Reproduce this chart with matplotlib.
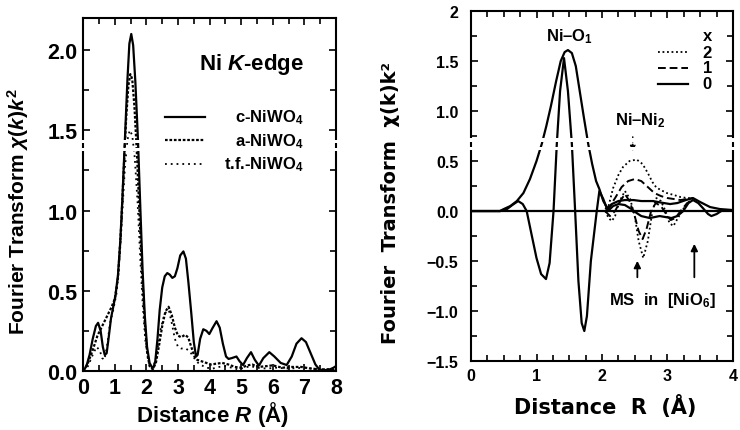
"""Two EXAFS Fourier transform panels: Ni K-edge of NiWO4 samples (left)
and the magnitude / imaginary part for x = 0, 1, 2 (right)."""
import matplotlib
matplotlib.use('Agg')
import matplotlib.pyplot as plt
from matplotlib.patches import Rectangle
from matplotlib.ticker import MultipleLocator, FixedLocator, FixedFormatter

plt.rcParams['font.family'] = ['Liberation Sans', 'DejaVu Sans']
plt.rcParams['font.weight'] = 'bold'
plt.rcParams['axes.labelweight'] = 'bold'
plt.rcParams['mathtext.fontset'] = 'custom'
plt.rcParams['mathtext.rm'] = 'Liberation Sans:bold'
plt.rcParams['mathtext.it'] = 'Liberation Sans:bold:italic'
plt.rcParams['mathtext.bf'] = 'Liberation Sans:bold'

# ---- left panel: Ni K-edge ----
c_r = [0.0, 0.1, 0.2, 0.3, 0.4, 0.47, 0.55, 0.62, 0.68, 0.74, 0.8, 0.88, 0.95,
       1.02, 1.1, 1.17, 1.24, 1.32, 1.4, 1.46, 1.52, 1.58, 1.65, 1.73, 1.81,
       1.88, 1.95, 2.02, 2.1, 2.17, 2.22, 2.28, 2.35, 2.42, 2.5, 2.58, 2.66,
       2.74, 2.82, 2.9, 2.98, 3.07, 3.17, 3.25, 3.33, 3.42, 3.5, 3.57, 3.62,
       3.7, 3.8, 3.9, 3.99, 4.1, 4.22, 4.32, 4.42, 4.52, 4.6, 4.7, 4.85, 4.95,
       5.06, 5.18, 5.31, 5.43, 5.56, 5.7, 5.89, 6.05, 6.25, 6.44, 6.6, 6.75,
       6.91, 7.05, 7.2, 7.35, 7.49, 7.65, 7.81, 7.92, 8.0]
c_ft = [0.0, 0.03, 0.1, 0.2, 0.28, 0.30, 0.25, 0.15, 0.10, 0.11, 0.2, 0.33, 0.40,
        0.47, 0.6, 0.8, 1.08, 1.45, 1.82, 2.04, 2.10, 2.03, 1.80, 1.45, 1.00,
        0.62, 0.34, 0.15, 0.05, 0.025, 0.02, 0.06, 0.2, 0.38, 0.52, 0.59, 0.61,
        0.60, 0.58, 0.59, 0.64, 0.72, 0.745, 0.70, 0.55, 0.36, 0.18, 0.09, 0.10,
        0.20, 0.26, 0.25, 0.23, 0.27, 0.31, 0.27, 0.17, 0.09, 0.075, 0.08, 0.09, 0.06,
        0.037, 0.08, 0.117, 0.07, 0.033, 0.08, 0.117, 0.09, 0.05, 0.037, 0.09, 0.17,
        0.204, 0.18, 0.11, 0.04, 0.005, 0.005, 0.01, 0.02, 0.03]

a_r = [0.0, 0.15, 0.3, 0.45, 0.6, 0.75, 0.9, 1.0, 1.1, 1.2, 1.28, 1.36, 1.43,
       1.49, 1.55, 1.62, 1.7, 1.78, 1.86, 1.94, 2.02, 2.1, 2.2, 2.3, 2.4, 2.5,
       2.6, 2.7, 2.8, 2.9, 3.0, 3.1, 3.22, 3.32, 3.42, 3.52, 3.6, 3.75, 3.9,
       4.05, 4.2, 4.4, 4.6, 4.8, 5.0, 5.2, 5.35, 5.55, 5.8, 6.0, 6.3, 6.6, 6.9,
       7.2, 7.5, 8.0]
a_ft = [0.0, 0.05, 0.13, 0.22, 0.28, 0.34, 0.40, 0.45, 0.58, 0.90, 1.25, 1.58, 1.78,
        1.85, 1.82, 1.65, 1.35, 0.98, 0.62, 0.32, 0.12, 0.03, 0.01, 0.05, 0.16, 0.28,
        0.37, 0.40, 0.35, 0.27, 0.22, 0.21, 0.225, 0.21, 0.15, 0.09, 0.07, 0.06, 0.05,
        0.04, 0.045, 0.05, 0.04, 0.025, 0.02, 0.035, 0.04, 0.025, 0.03, 0.035, 0.02,
        0.025, 0.025, 0.015, 0.01, 0.01]

tf_r = [0.0, 0.15, 0.3, 0.42, 0.52, 0.6, 0.67, 0.75, 0.85, 0.95, 1.05, 1.15, 1.24,
        1.32, 1.4, 1.47, 1.55, 1.63, 1.72, 1.8, 1.88, 1.96, 2.05, 2.13, 2.2, 2.28,
        2.36, 2.45, 2.55, 2.65, 2.72, 2.8, 2.9, 3.0, 3.1, 3.25, 3.38, 3.48, 3.58,
        3.7, 3.9, 4.1, 4.3, 4.5, 4.7, 4.9, 5.1, 5.3, 5.5, 5.8, 6.1, 6.5, 7.0, 7.5, 8.0]
tf_ft = [0.0, 0.03, 0.1, 0.15, 0.13, 0.08, 0.07, 0.15, 0.30, 0.38, 0.48, 0.70, 1.00,
         1.27, 1.44, 1.50, 1.47, 1.33, 1.05, 0.72, 0.42, 0.2, 0.07, 0.02, 0.02, 0.06,
         0.15, 0.26, 0.34, 0.38, 0.37, 0.3, 0.2, 0.15, 0.14, 0.14, 0.12, 0.09, 0.06,
         0.04, 0.02, 0.015, 0.025, 0.03, 0.02, 0.01, 0.02, 0.03, 0.02, 0.015, 0.02,
         0.015, 0.02, 0.01, 0.005]

left_labels = ['c-NiWO$_4$', 'a-NiWO$_4$', 't.f.-NiWO$_4$']
left_yticks = [0.0, 0.5, 1.0, 1.5, 2.0]

# ---- right panel: magnitude and imaginary part, x = 0, 1, 2 ----
mag0_r = [0.0, 0.44, 0.5, 0.6, 0.7, 0.8, 0.9, 1.0, 1.08, 1.15, 1.22, 1.3, 1.37,
          1.43, 1.48, 1.54, 1.6, 1.66, 1.72, 1.79, 1.85, 1.91, 1.96, 2.02, 2.09,
          2.15, 2.25, 2.35, 2.48, 2.6, 2.78, 2.9, 3.04, 3.15, 3.28, 3.39, 3.5,
          3.65, 3.8, 4.0]
mag0 = [0.0, 0.0, 0.02, 0.05, 0.1, 0.18, 0.32, 0.5, 0.67, 0.85, 1.05, 1.3, 1.5,
        1.59, 1.61, 1.58, 1.45, 1.2, 0.95, 0.67, 0.47, 0.3, 0.22, 0.1, 0.02,
        0.07, 0.10, 0.11, 0.11, 0.10, 0.10, 0.085, 0.07, 0.08, 0.11, 0.13, 0.09,
        0.04, 0.02, 0.01]
im0_r = [0.0, 0.45, 0.55, 0.63, 0.72, 0.79, 0.85, 0.92, 1.0, 1.07, 1.145, 1.2,
         1.26, 1.31, 1.36, 1.42, 1.48, 1.54, 1.59, 1.64, 1.69, 1.73, 1.77, 1.83,
         1.92, 1.96, 2.02, 2.09, 2.17, 2.25, 2.35, 2.45, 2.53, 2.6, 2.73, 2.88,
         3.06, 3.15, 3.24, 3.32, 3.39, 3.47, 3.54, 3.62, 3.67, 3.75, 3.82, 3.9, 4.0]
im0 = [0.0, 0.0, 0.02, 0.06, 0.10, 0.07, 0.0, -0.22, -0.47, -0.63, -0.68, -0.52,
       0.0, 0.67, 1.2, 1.53, 1.2, 0.67, 0.0, -0.7, -1.12, -1.2, -1.05, -0.5,
       0.0, 0.2, 0.12, 0.0, 0.05, 0.07, 0.06, 0.02, -0.02, -0.05, -0.07, -0.05,
       -0.07, -0.05, 0.0, 0.08, 0.11, 0.08, 0.03, -0.03, -0.05, -0.03, 0.0, 0.01, 0.0]

mag1_r = [2.05, 2.12, 2.2, 2.3, 2.4, 2.5, 2.6, 2.7, 2.8, 2.9, 3.0, 3.1, 3.2, 3.3, 3.39]
mag1 = [0.02, 0.05, 0.13, 0.24, 0.30, 0.32, 0.30, 0.24, 0.18, 0.15, 0.13, 0.12, 0.11, 0.12, 0.13]
im1_r = [2.05, 2.12, 2.2, 2.28, 2.35, 2.42, 2.5, 2.56, 2.62, 2.68, 2.75, 2.82, 2.9,
         2.98, 3.05, 3.12, 3.2, 3.3, 3.39]
im1 = [0.0, -0.05, 0.0, 0.1, 0.17, 0.1, -0.05, -0.2, -0.28, -0.18, 0.0, 0.08, 0.05,
       -0.03, -0.09, -0.07, 0.0, 0.08, 0.11]

mag2_r = [2.05, 2.1, 2.17, 2.25, 2.32, 2.42, 2.53, 2.62, 2.7, 2.77, 2.83, 2.9, 2.99,
          3.1, 3.2, 3.3, 3.39]
mag2 = [0.02, 0.05, 0.23, 0.36, 0.44, 0.50, 0.515, 0.47, 0.38, 0.29, 0.235, 0.21,
        0.18, 0.16, 0.14, 0.13, 0.13]
im2_r = [2.05, 2.1, 2.15, 2.2, 2.27, 2.35, 2.43, 2.5, 2.56, 2.63, 2.7, 2.77, 2.83,
         2.9, 2.97, 3.03, 3.09, 3.15, 3.25, 3.32, 3.39]
im2 = [0.0, -0.07, -0.1, -0.05, 0.1, 0.2, 0.12, -0.05, -0.3, -0.47, -0.3, 0.0, 0.13,
       0.1, 0.0, -0.12, -0.15, -0.08, 0.03, 0.09, 0.11]

right_labels = ['2', '1', '0']
right_yticks = [-1.5, -1.0, -0.5, 0.0, 0.5, 1.0, 1.5, 2.0]
right_yticklabels = ['\u22121.5', '\u22121.0', '\u22120.5', '0.0', '0.5', '1.0', '1.5', '2']

DENSE = (0, (1.2, 0.8))
SPARSE = (0, (1, 2.2))


def axis_break(ax, lo, hi):
    """Cuts the spines and curves with two thin white bands around a level."""
    tr = ax.get_yaxis_transform()
    h = (hi - lo) * 0.3
    for y0 in (lo, hi - h):
        ax.add_patch(Rectangle((-0.015, y0), 1.03, h, transform=tr, color='white',
                               zorder=10, clip_on=False, lw=0))


def style_axes(ax):
    for s in ax.spines.values():
        s.set_linewidth(1.5)
    ax.tick_params(which='both', direction='in', top=True, right=True,
                   width=1.2)
    ax.tick_params(which='major', length=5)
    ax.tick_params(which='minor', length=4)


fig = plt.figure(figsize=(7.4, 4.31), dpi=100)

# left panel
ax1 = fig.add_axes([0.1125, 0.137, 0.3415, 0.819])
ax1.plot(c_r, c_ft, color='black', lw=1.6)
ax1.plot(a_r, a_ft, color='black', lw=1.6, ls=DENSE)
ax1.plot(tf_r, tf_ft, color='black', lw=1.3, ls=SPARSE)
ax1.set_xlim(0, 8)
ax1.set_ylim(0, 2.2)
ax1.xaxis.set_major_locator(MultipleLocator(1))
ax1.xaxis.set_minor_locator(MultipleLocator(0.5))
ax1.yaxis.set_major_locator(FixedLocator(left_yticks))
ax1.yaxis.set_minor_locator(MultipleLocator(0.25))
ax1.set_yticklabels([f'{v:.1f}' for v in left_yticks])
style_axes(ax1)
ax1.tick_params(which='major', labelsize=15.5, pad=4)
ax1.set_xlabel('Distance $R$ (\u00c5)', fontsize=16)
ax1.set_ylabel('Fourier Transform $\\chi(k)k^2$', fontsize=15)
ax1.xaxis.set_label_coords(0.511, -0.12)
ax1.xaxis.label.set_va('center')
ax1.yaxis.set_label_coords(-0.258, 0.454)
ax1.yaxis.label.set_va('center')
axis_break(ax1, 1.372, 1.438)

ax1.text(0.873, 0.87, 'Ni $K$-edge', transform=ax1.transAxes, fontsize=16,
         ha='right', va='center')
left_styles = [dict(lw=1.6), dict(lw=1.6, ls=DENSE), dict(lw=1.3, ls=SPARSE)]
for i, (lab, st) in enumerate(zip(left_labels, left_styles)):
    yy = 0.72 - i * 0.067
    ax1.plot([0.323, 0.482], [yy, yy], color='black', transform=ax1.transAxes,
             zorder=12, **st)
    ax1.text(0.873, yy, lab, transform=ax1.transAxes, fontsize=12,
             ha='right', va='center', zorder=12)

# right panel
ax2 = fig.add_axes([0.6365, 0.160, 0.354, 0.812])
ax2.axhline(0, color='black', lw=1.6)
ax2.plot(mag0_r, mag0, color='black', lw=1.6)
ax2.plot(im0_r, im0, color='black', lw=1.6)
ax2.plot(mag1_r, mag1, color='black', lw=1.4, ls=(0, (4, 2)))
ax2.plot(im1_r, im1, color='black', lw=1.4, ls=(0, (4, 2)))
ax2.plot(mag2_r, mag2, color='black', lw=1.3, ls=(0, (1, 1.5)))
ax2.plot(im2_r, im2, color='black', lw=1.3, ls=(0, (1, 1.5)))
ax2.set_xlim(0, 4)
ax2.set_ylim(-1.5, 2)
ax2.xaxis.set_major_locator(MultipleLocator(1))
ax2.xaxis.set_minor_locator(MultipleLocator(0.25))
ax2.yaxis.set_major_locator(FixedLocator(right_yticks))
ax2.yaxis.set_major_formatter(FixedFormatter(right_yticklabels))
ax2.yaxis.set_minor_locator(MultipleLocator(0.25))
style_axes(ax2)
ax2.tick_params(which='major', labelsize=11.5)
ax2.tick_params(axis='y', pad=9)
ax2.tick_params(axis='x', pad=5)
ax2.set_xlabel('Distance  R  (\u00c5)', fontsize=15, family='DejaVu Sans')
ax2.set_ylabel('Fourier  Transform  \u03c7(k)k\u00b2', fontsize=14, family='DejaVu Sans')
ax2.xaxis.set_label_coords(0.511, -0.128)
ax2.xaxis.label.set_va('center')
ax2.yaxis.set_label_coords(-0.309, 0.454)
ax2.yaxis.label.set_va('center')
axis_break(ax2, 0.606, 0.727)

ax2.text(0.885, 0.929, 'x', transform=ax2.transAxes, fontsize=12,
         ha='left', va='center')
right_styles = [dict(lw=1.3, ls=(0, (1, 1.5))), dict(lw=1.4, ls=(0, (4, 2))), dict(lw=1.6)]
for i, (lab, st) in enumerate(zip(right_labels, right_styles)):
    yy = 0.883 - i * 0.045
    ax2.plot([0.714, 0.828], [yy, yy], color='black', transform=ax2.transAxes, **st)
    ax2.text(0.885, yy, lab, transform=ax2.transAxes, fontsize=12,
             ha='left', va='center')

ax2.text(1.51, 1.75, 'Ni\u2013O$_1$', fontsize=12, ha='center', va='center')
ax2.text(2.58, 0.91, 'Ni\u2013Ni$_2$', fontsize=12, ha='center', va='center')
ax2.annotate('', xy=(2.47, 0.57), xytext=(2.47, 0.77),
             arrowprops=dict(arrowstyle='-|>', lw=1, ls='--', color='black',
                             mutation_scale=8))
ax2.text(2.92, -0.88, 'MS  in  [NiO$_6$]', fontsize=12, ha='center', va='center')
for xr, ytop in [(2.54, -0.47), (3.41, -0.30)]:
    ax2.annotate('', xy=(xr, ytop), xytext=(xr, -0.69),
                 arrowprops=dict(arrowstyle='-|>', lw=1.3, color='black',
                                 mutation_scale=10))

fig.savefig('out.png', dpi=100)
